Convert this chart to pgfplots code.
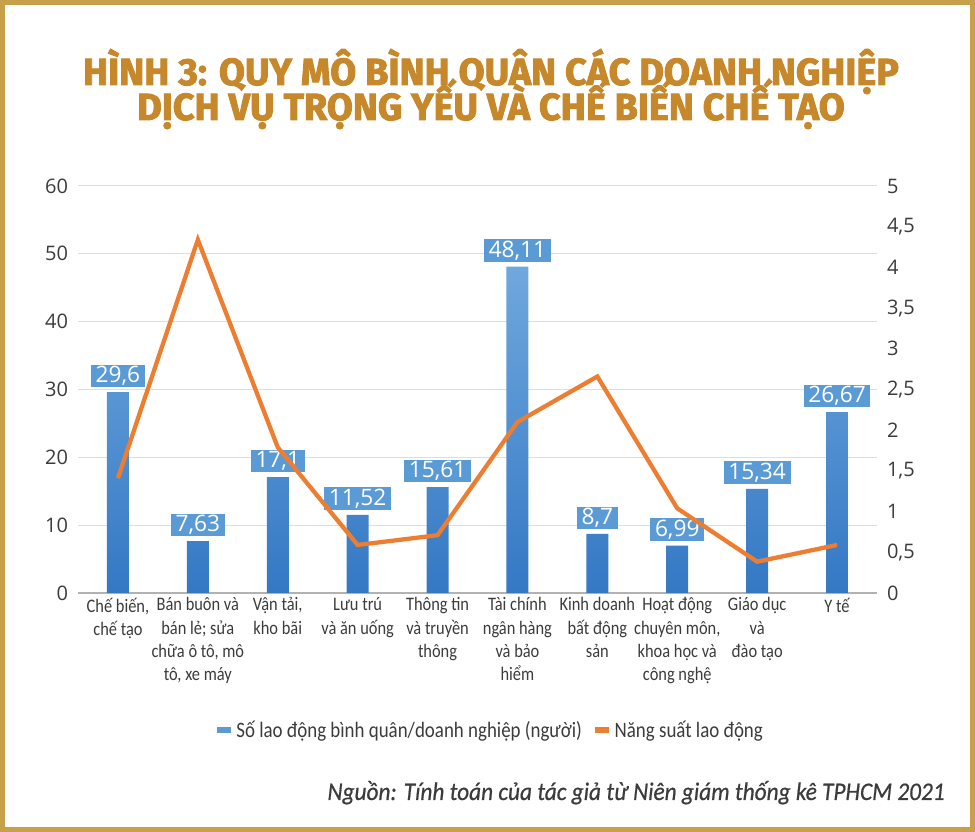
\documentclass[border=0pt]{standalone}
\usepackage{fontspec}
\usepackage{pgfplots}
\pgfplotsset{compat=1.18}
\setmainfont{Carlito}
\newfontfamily\numfont{Open Sans}
\newfontfamily\catfont[FakeStretch=0.86]{Carlito}
\newfontfamily\srcfont[FakeStretch=0.92, ItalicFeatures={FakeBold=0.6}]{Carlito}
\newfontfamily\titlefont[FakeStretch=1.0, BoldFeatures={FakeBold=2.4}]{Fira Sans}
\definecolor{framec}{RGB}{201,160,74}
\definecolor{titlec}{RGB}{198,136,42}
\definecolor{barblue}{RGB}{91,155,213}
\definecolor{bartop}{RGB}{112,168,222}
\definecolor{barbot}{RGB}{52,120,196}
\definecolor{lineor}{RGB}{237,125,49}
\definecolor{txt}{RGB}{60,60,60}
\definecolor{gridc}{RGB}{222,222,222}

\begin{document}
\begin{tikzpicture}[x=0.75pt,y=0.75pt]
\useasboundingbox (0,0) rectangle (975,832);
\fill[white] (0,0) rectangle (975,832);
\draw[framec, line width=3.75pt] (2.5,2.5) rectangle (972.5,829.5);
\node[anchor=base, text=titlec, inner sep=0pt, font=\titlefont\bfseries\fontsize{28.3}{28.3}\selectfont] at (491,747) {HÌNH 3: QUY MÔ BÌNH QUÂN CÁC DOANH NGHIỆP};
\node[anchor=base, text=titlec, inner sep=0pt, font=\titlefont\bfseries\fontsize{28.3}{28.3}\selectfont] at (491,712) {DỊCH VỤ TRỌNG YẾU VÀ CHẾ BIẾN CHẾ TẠO};

\begin{axis}[
  at={(58.5pt,179.25pt)}, anchor=south west,
  scale only axis, width=599.25pt, height=305.25pt,
  xmin=-0.5, xmax=9.5, ymin=0, ymax=60,
  axis x line*=bottom, axis y line*=left,
  x axis line style={draw=gridc!80!black, line width=0.8pt},
  y axis line style={draw=none},
  major tick length=0pt,
  ytick={0,10,20,30,40,50,60},
  ymajorgrids, grid style={gridc, line width=0.75pt},
  xtick={0,1,2,3,4,5,6,7,8,9},
  xticklabels={{Chế biến,\\chế tạo},{Bán buôn và\\bán lẻ; sửa\\chữa ô tô, mô\\tô, xe máy},{Vận tải,\\kho bãi},{Lưu trú\\và ăn uống},{Thông tin\\và truyền\\thông},{Tài chính\\ngân hàng\\và bảo\\hiểm},{Kinh doanh\\bất động\\sản},{Hoạt động\\chuyên môn,\\khoa học và\\công nghệ},{Giáo dục\\và\\đào tạo},{Y tế}},
  xticklabel style={align=center, text=txt, font=\catfont\fontsize{14.3}{17.5}\selectfont, anchor=north, yshift=0pt},
  yticklabel style={text=txt, font=\numfont\fontsize{15}{15}\selectfont, xshift=-4pt},
  /pgf/number format/assume math mode=true,
  /pgf/number format/use comma,
  clip=false,
]
\addplot[ybar, bar width=16.5pt, draw=none, top color=bartop, bottom color=barbot,
  nodes near coords,
  every node near coord/.style={fill=barblue, text=white, font=\numfont\fontsize{17}{17}\selectfont, inner xsep=3.5pt, inner ysep=1.2pt, anchor=south, yshift=3.5pt},
] coordinates {(0,29.6) (1,7.63) (2,17.1) (3,11.52) (4,15.61) (5,48.11) (6,8.7) (7,6.99) (8,15.34) (9,26.67)};
\end{axis}

\begin{axis}[
  at={(58.5pt,179.25pt)}, anchor=south west,
  scale only axis, width=599.25pt, height=305.25pt,
  xmin=-0.5, xmax=9.5, ymin=0, ymax=5,
  axis x line=none, axis y line*=right,
  y axis line style={draw=none},
  major tick length=0pt,
  ytick={0,0.5,1,1.5,2,2.5,3,3.5,4,4.5,5},
  yticklabel style={text=txt, font=\numfont\fontsize{15}{15}\selectfont, xshift=4pt},
  /pgf/number format/assume math mode=true,
  /pgf/number format/use comma,
  legend columns=2,
  legend style={at={(rel axis cs:0.5156,-0.3366)}, anchor=center, draw=none, fill=none,
    font=\catfont\fontsize{16.5}{16.5}\selectfont, text=txt,
    /tikz/every even column/.append style={column sep=6pt}},
  legend image code/.code={\draw[#1, line width=4pt] (0,0) -- (10.5pt,0);},
  clip=false,
]
\addlegendimage{barblue, line width=4pt}
\addlegendentry{Số lao động bình quân/doanh nghiệp (người)}
\addplot[lineor, line width=3.2pt] coordinates {(0,1.41) (1,4.34) (2,1.79) (3,0.59) (4,0.71) (5,2.10) (6,2.66) (7,1.04) (8,0.385) (9,0.59)};
\addlegendentry{Năng suất lao động}
\end{axis}

\node[anchor=base east, text=txt, inner sep=0pt, font=\srcfont\itshape\fontsize{19}{19}\selectfont] at (945,32) {Nguồn: Tính toán của tác giả từ Niên giám thống kê TPHCM 2021};
\end{tikzpicture}
\end{document}
